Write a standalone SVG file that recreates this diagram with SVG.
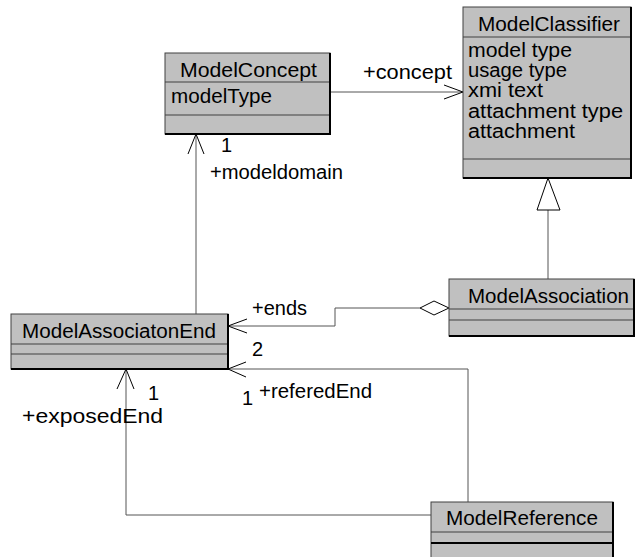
<svg xmlns="http://www.w3.org/2000/svg" width="637" height="557" viewBox="0 0 637 557">
<style>
.box{fill:#c0c0c0;stroke:#404040;stroke-width:1}
.edge{fill:none;stroke:#000;stroke-width:2}
.sep{stroke:#404040;stroke-width:1}
.t{font-family:"Liberation Sans",Arial,sans-serif;font-size:20px;fill:#000}
.c{fill:none;stroke:#555;stroke-width:1}
.ah{fill:none;stroke:#000;stroke-width:1}
</style>
<rect width="637" height="557" fill="#fff"/>
<g id="connectors">
  <polyline class="c" points="330,92 463,92"/>
  <polyline class="ah" points="444,85 463,92 444,99"/>
  <text class="t" x="363" y="79" textLength="89" lengthAdjust="spacingAndGlyphs">+concept</text>
  <polyline class="c" points="196,314 196,134"/>
  <polyline class="ah" points="188,154 196,134 204,154"/>
  <text class="t" x="221" y="152">1</text>
  <text class="t" x="210" y="179" textLength="133" lengthAdjust="spacingAndGlyphs">+modeldomain</text>
  <polyline class="c" points="420,308 335,308 335,326 228,326"/>
  <polygon points="420,308 434,301 449,308 434,315" fill="#fff" stroke="#000" stroke-width="1"/>
  <polyline class="ah" points="247,319 228,326 247,333"/>
  <text class="t" x="252" y="315" textLength="55" lengthAdjust="spacingAndGlyphs">+ends</text>
  <text class="t" x="252" y="356">2</text>
  <polyline class="c" points="548,279 548,210"/>
  <polygon points="548,178 537,210 560,210" fill="#fff" stroke="#000" stroke-width="1"/>
  <polyline class="c" points="468,502 468,369 228,369"/>
  <polyline class="ah" points="246,362 228,369 246,377"/>
  <text class="t" x="242" y="405">1</text>
  <text class="t" x="259" y="398" textLength="113" lengthAdjust="spacingAndGlyphs">+referedEnd</text>
  <polyline class="c" points="431,515 126,515 126,369"/>
  <polyline class="ah" points="117,389 126,369 134,389"/>
  <text class="t" x="148" y="400">1</text>
  <text class="t" x="22" y="423" textLength="141" lengthAdjust="spacingAndGlyphs">+exposedEnd</text>
</g>
<g id="ModelConcept">
  <rect class="box" x="165" y="53" width="165" height="81"/>
  <line class="sep" x1="165" y1="82" x2="330" y2="82"/>
  <line class="sep" x1="165" y1="115" x2="330" y2="115"/>
  <polyline class="edge" points="330,53 330,134 165,134"/>
  <text class="t" x="180" y="77" textLength="137" lengthAdjust="spacingAndGlyphs">ModelConcept</text>
  <text class="t" x="171" y="103" textLength="101" lengthAdjust="spacingAndGlyphs">modelType</text>
</g>
<g id="ModelClassifier">
  <rect class="box" x="463" y="7" width="168" height="171"/>
  <line class="sep" x1="463" y1="37" x2="631" y2="37"/>
  <line class="sep" x1="463" y1="159" x2="631" y2="159"/>
  <polyline class="edge" points="631,7 631,178 463,178"/>
  <text class="t" x="478" y="31" textLength="142" lengthAdjust="spacingAndGlyphs">ModelClassifier</text>
  <text class="t" x="468" y="57" textLength="104" lengthAdjust="spacingAndGlyphs">model type</text>
  <text class="t" x="468" y="77" textLength="99" lengthAdjust="spacingAndGlyphs">usage type</text>
  <text class="t" x="468" y="97" textLength="75" lengthAdjust="spacingAndGlyphs">xmi text</text>
  <text class="t" x="468" y="118" textLength="155" lengthAdjust="spacingAndGlyphs">attachment type</text>
  <text class="t" x="468" y="138" textLength="107" lengthAdjust="spacingAndGlyphs">attachment</text>
</g>
<g id="ModelAssociatonEnd">
  <rect class="box" x="11" y="314" width="217" height="55"/>
  <line class="sep" x1="11" y1="344" x2="228" y2="344"/>
  <line class="sep" x1="11" y1="354" x2="228" y2="354"/>
  <polyline class="edge" points="228,314 228,369 11,369"/>
  <text class="t" x="22" y="338" textLength="194" lengthAdjust="spacingAndGlyphs">ModelAssociatonEnd</text>
</g>
<g id="ModelAssociation">
  <rect class="box" x="449" y="279" width="185" height="57"/>
  <line class="sep" x1="449" y1="309" x2="634" y2="309"/>
  <line class="sep" x1="449" y1="320" x2="634" y2="320"/>
  <polyline class="edge" points="634,279 634,336 449,336"/>
  <text class="t" x="468" y="303" textLength="161" lengthAdjust="spacingAndGlyphs">ModelAssociation</text>
</g>
<g id="ModelReference">
  <rect class="box" x="431" y="502" width="182" height="62"/>
  <line class="sep" x1="431" y1="532" x2="613" y2="532"/>
  <line class="edge" x1="431" y1="543" x2="613" y2="543"/>
  <line class="edge" x1="613" y1="502" x2="613" y2="557"/>
  <text class="t" x="446" y="525" textLength="152" lengthAdjust="spacingAndGlyphs">ModelReference</text>
</g>
</svg>
